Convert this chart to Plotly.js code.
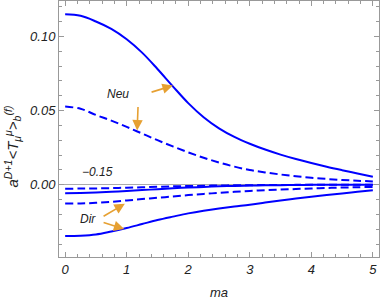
<!DOCTYPE html>
<html><head><meta charset="utf-8">
<script src="https://cdn.plot.ly/plotly-3.0.1.min.js"></script>
<style>html,body{margin:0;padding:0;background:#fff;}#c{width:382px;height:300px;}</style>
</head><body><div id="c"></div>
<script>
var maVals = [0, 0.25, 0.5, 0.75, 1, 1.25, 1.5, 1.75, 2, 2.25, 2.5, 2.75, 3, 3.25, 3.5, 3.75, 4, 4.25, 4.5, 4.75, 5];
var neuSolid  = [0.1148, 0.1138, 0.110, 0.105, 0.098, 0.089, 0.078, 0.0663, 0.0550, 0.0455, 0.0380, 0.0322, 0.0276, 0.0237, 0.0203, 0.0173, 0.0146, 0.0121, 0.0098, 0.0076, 0.0054];
var neuDashed = [0.0527, 0.0512, 0.0470, 0.0432, 0.0390, 0.0345, 0.0300, 0.0258, 0.0218, 0.0182, 0.0150, 0.0122, 0.0099, 0.0083, 0.0069, 0.0057, 0.0047, 0.0039, 0.0032, 0.0027, 0.0022];
var m015Dashed = [-0.0027, -0.0026, -0.0025, -0.0023, -0.0020, -0.0017, -0.0014, -0.0011, -0.0009, -0.0007, -0.0005, -0.0004, -0.0003, -0.0002, -0.0002, -0.0001, -0.0001, 0, 0, 0, 0];
var m015Solid  = [-0.0057, -0.0056, -0.0053, -0.0048, -0.0042, -0.0036, -0.0030, -0.0024, -0.0019, -0.0015, -0.0011, -0.0008, -0.0006, -0.0004, -0.0003, -0.0002, -0.0001, 0, 0, 0, 0];
var dirDashed = [-0.0127, -0.0126, -0.0122, -0.0115, -0.0106, -0.0097, -0.0088, -0.0079, -0.0070, -0.0062, -0.0055, -0.0048, -0.0042, -0.0037, -0.0033, -0.0029, -0.0025, -0.0022, -0.0019, -0.0017, -0.0015];
var dirSolid  = [-0.0345, -0.0343, -0.0335, -0.0315, -0.0292, -0.0265, -0.0238, -0.0215, -0.0193, -0.0175, -0.0160, -0.0147, -0.0135, -0.0120, -0.0106, -0.0093, -0.0081, -0.0070, -0.0059, -0.0048, -0.0038];

var blue = 'rgb(0,0,255)';
function tr(y, dashed){
  return {x: maVals, y: y, type:'scatter', mode:'lines', line:{color:blue, width:2, dash: dashed ? '8px,4px' : 'solid', shape:'spline', smoothing:1}, hoverinfo:'skip', showlegend:false};
}
var data = [tr(neuSolid,false), tr(neuDashed,true), tr(m015Dashed,true), tr(m015Solid,false), tr(dirDashed,true), tr(dirSolid,false)];

var orange = 'rgb(230,160,50)';
var tf = {family:'Liberation Sans, Arial, sans-serif', size:13, color:'#222', style:'italic'};
var af = {family:'Liberation Sans, Arial, sans-serif', size:12, color:'#222', style:'italic'};
function arrow(x0,y0,x1,y1){
  return {x:x1, y:y1, ax:x0, ay:y0, axref:'x', ayref:'y', xref:'x', yref:'y', text:'', showarrow:true,
    arrowhead:2, arrowsize:1.3, arrowwidth:1.6, arrowcolor:orange, standoff:0, startstandoff:0};
}
var layout = {
  width:382, height:300,
  margin:{l:59, r:3, t:1, b:43},
  paper_bgcolor:'#fff', plot_bgcolor:'#fff',
  xaxis:{range:[-0.1,5.1], tickvals:[0,1,2,3,4,5], ticktext:['0','1','2','3','4','5'],
    ticks:'inside', ticklen:5, tickcolor:'#999', showline:true, linecolor:'#999', linewidth:1, mirror:'ticks',
    showgrid:false, zeroline:false, tickfont:tf,
    minor:{dtick:0.2, ticks:'inside', ticklen:3, tickcolor:'#999', showgrid:false},
    title:{text:'ma', font:tf, standoff:13}},
  yaxis:{range:[-0.0487,0.1238], tickvals:[0,0.05,0.10], ticktext:['0.00','0.05','0.10'],
    ticks:'inside', ticklen:5, tickcolor:'#999', showline:true, linecolor:'#999', linewidth:1, mirror:'ticks',
    showgrid:false, zeroline:true, zerolinecolor:'#aaa', zerolinewidth:1.2, tickfont:tf,
    minor:{dtick:0.01, ticks:'inside', ticklen:3, tickcolor:'#999', showgrid:false}},
  annotations:[
    {x:-0.145, y:0.43, xref:'paper', yref:'paper', xanchor:'center', yanchor:'middle', textangle:-90, showarrow:false,
     text:'a<sup>D+1</sup>&lt;T<sub>μ</sub><sup>μ</sup>&gt;<sub>b</sub><sup>(f)</sup>',
     font:{family:'Liberation Sans, Arial, sans-serif', size:15, color:'#222', style:'italic'}},
    {x:0.86, y:0.0614, xref:'x', yref:'y', text:'Neu', showarrow:false, font:af},
    arrow(1.38,0.0621,1.75,0.0668),
    arrow(1.185,0.0534,1.17,0.0366),
    {x:0.37, y:-0.0232, xref:'x', yref:'y', text:'Dir', showarrow:false, font:af},
    arrow(0.60,-0.0218,0.97,-0.0128),
    arrow(0.60,-0.0252,0.96,-0.0299),
    {x:0.52, y:0.0084, xref:'x', yref:'y', text:'−0.15', showarrow:false, font:af}
  ]
};
Plotly.newPlot('c', data, layout, {staticPlot:true, displayModeBar:false});
</script></body></html>
